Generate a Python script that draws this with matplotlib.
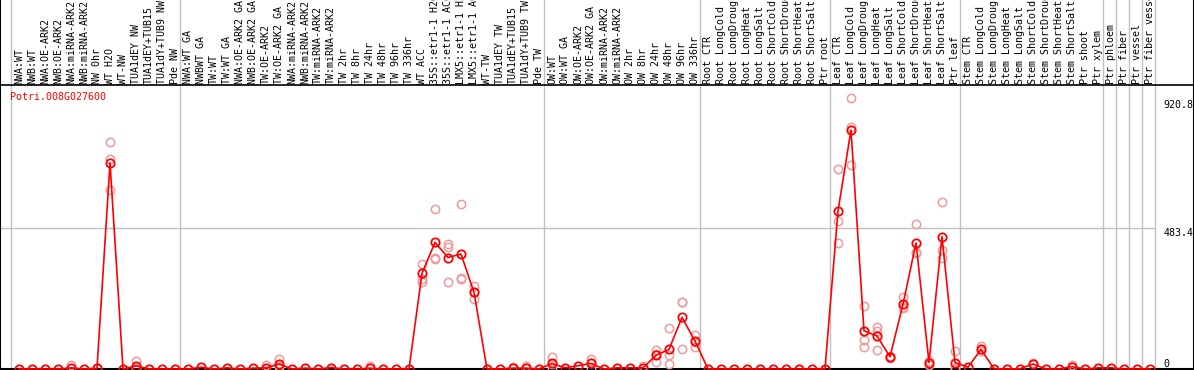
import numpy as np
import matplotlib
matplotlib.use("Agg")
import matplotlib.pyplot as plt

# sample labels, in plot order
labels = [
    "NWA:WT", "NWB:WT", "NWA:OE-ARK2", "NWB:OE-ARK2", "NWA:miRNA-ARK2", "NWB:miRNA-ARK2",
    "NW 0hr", "WT H2O", "WT-NW", "TUA1dEY NW", "TUA1dEY+TUB15", "TUA1dY+TUB9 NW", "Pde NW",
    "NWA:WT GA", "NWBWT GA", "TW:WT", "TW:WT GA", "NWA:OE-ARK2 GA", "NWB:OE-ARK2 GA",
    "TW:OE-ARK2", "TW:OE-ARK2 GA", "NWA:miRNA-ARK2", "NWB:miRNA-ARK2", "TW:miRNA-ARK2",
    "TW:miRNA-ARK2", "TW 2hr", "TW 8hr", "TW 24hr", "TW 48hr", "TW 96hr", "TW 336hr",
    "WT ACC", "35S::etr1-1 H2O", "35S::etr1-1 ACC", "LMX5::etr1-1 H2O", "LMX5::etr1-1 ACC",
    "WT-TW", "TUA1dEY TW", "TUA1dEY+TUB15", "TUA1dY+TUB9 TW", "Pde TW",
    "OW:WT", "OW:WT GA", "OW:OE-ARK2", "OW:OE-ARK2 GA", "OW:miRNA-ARK2", "OW:miRNA-ARK2",
    "OW 2hr", "OW 8hr", "OW 24hr", "OW 48hr", "OW 96hr", "OW 336hr",
    "Root CTR", "Root LongCold", "Root LongDrought", "Root LongHeat", "Root LongSalt",
    "Root ShortCold", "Root ShortDrought", "Root ShortHeat", "Root ShortSalt", "Ptr root",
    "Leaf CTR", "Leaf LongCold", "Leaf LongDrought", "Leaf LongHeat", "Leaf LongSalt",
    "Leaf ShortCold", "Leaf ShortDrought", "Leaf ShortHeat", "Leaf ShortSalt", "Ptr leaf",
    "Stem CTR", "Stem LongCold", "Stem LongDrought", "Stem LongHeat", "Stem LongSalt",
    "Stem ShortCold", "Stem ShortDrought", "Stem ShortHeat", "Stem ShortSalt",
    "Ptr shoot", "Ptr xylem", "Ptr phloem", "Ptr fiber", "Ptr vessel", "Ptr fiber vessel",
]

# mean expression per sample
means = [
    0, 0, 0, 0, 4, 0, 2, 707, 0, 11, 0, 0, 0,
    0, 6, 0, 4, 0, 3, 4, 17, 0, 3, 0, 5, 0, 0, 3, 0, 0, 0,
    328, 434, 382, 394, 263, 0, 0, 3, 3, 0,
    19, 4, 11, 19, 0, 4, 4, 4, 47, 67, 177, 96,
    0, 0, 0, 0, 0, 0, 0, 0, 0, 0,
    542, 819, 131, 113, 42, 222, 432, 22, 454, 22,
    6, 67, 1, 0, 1, 17, 0, 0, 8, 0, 4,
    4, 0, 0, 0,
]

# replicate values (only where they differ visibly from the mean)
replicates = {
    4: [14], 6: [5], 7: [779, 720, 614], 9: [27, 3, 3],
    19: [14], 20: [34, 10, 8], 27: [10], 38: [8], 39: [10],
    31: [360, 308, 299], 32: [547, 377, 382], 33: [428, 417, 297],
    34: [565, 313, 307], 35: [285, 264, 240],
    41: [40, 0, 17], 44: [35, 0, 22], 48: [11], 49: [65, 23, 53],
    50: [139, 47, 16], 51: [231, 70, 230], 52: [117, 77, 94],
    63: [685, 507, 431], 64: [928, 831, 698], 65: [216, 99, 76],
    66: [145, 131, 65], 67: [37, 45], 68: [246, 208, 214],
    69: [497, 402, 397], 70: [27, 15], 71: [573, 408, 380], 72: [63, 2, 1],
    74: [79, 60], 78: [22], 81: [15],
}

# first sample of each group (separator lines go before these)
group_starts = [0, 13, 41, 53, 63, 73, 84, 85, 86, 87, 88]
y_ticks = [0, 483.4, 920.8]
gene = "Potri.008G027600"

mono = "DejaVu Sans Mono"
fs = 7.2
scale = 0.2917  # pixels per unit

fig = plt.figure(figsize=(11.94, 3.70), dpi=100)
ax = fig.add_axes([0, 0, 1, 1])
ax.set_xlim(-19 / 13, (1194 - 19) / 13)
ax.set_ylim(-1 / scale, 369 / scale)
ax.set_xticks([])
ax.set_yticks([])
for s in ["top", "bottom"]:
    ax.spines[s].set_visible(False)
for s in ["left", "right"]:
    ax.spines[s].set_linewidth(1.5)

header_y = (369 - 85) / scale
n = len(labels)
x = np.arange(n)

# separators and grid
for g in group_starts:
    ax.axvline(g - 0.6, color="#c0c0c0", lw=1, zorder=1)
ax.hlines(y_ticks[1], -19 / 13, group_starts[-1] - 0.6, color="#c0c0c0", lw=1, zorder=1)
ax.axhline(header_y, color="black", lw=1.2, zorder=2)
ax.axhline(0, color="black", lw=1.5, zorder=2)

# header labels
for i, lab in enumerate(labels):
    ax.text(i, header_y + 1 / scale, lab, rotation=90, ha="center", va="bottom",
            fontsize=fs, family=mono, color="black")

# replicates
for i, vals in replicates.items():
    ax.plot([i] * len(vals), vals, "o", ms=6, mfc="none", mec="#ef9a9a", mew=1.1, zorder=3)

# mean line
ax.plot(x, means, "-", color="red", lw=1.2, zorder=4)
ax.plot(x, means, "o", ms=6, mfc="none", mec="red", mew=1.3, zorder=5)

# value labels on the right
lx = group_starts[-1] - 0.6 + 8 / 13
ax.text(lx, y_ticks[2], "920.8", ha="left", va="top", fontsize=fs, family=mono)
ax.text(lx, y_ticks[1], "483.4", ha="left", va="top", fontsize=fs, family=mono)
ax.text(lx, y_ticks[0], "0", ha="left", va="bottom", fontsize=fs, family=mono)

ax.text(-9 / 13, (369 - 97) / scale, gene, ha="left", va="center", fontsize=fs,
        family=mono, color="red")

fig.savefig("out.png", dpi=100)
